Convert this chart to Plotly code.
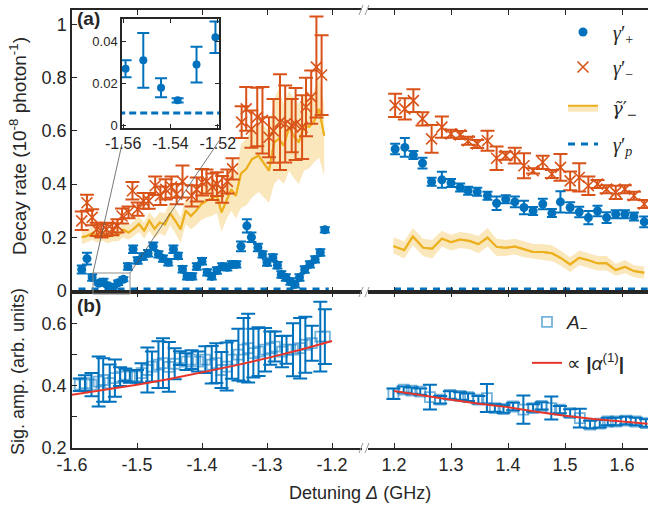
import plotly.graph_objects as go

# ============================ DATA ============================
# Panel (a): decay rates, negative-detuning segment (GHz, 1e-8 photon^-1)
gplus_left_x = [-1.585, -1.577, -1.569, -1.559, -1.5515, -1.544, -1.537, -1.529, -1.521, -1.514,
                -1.506, -1.499, -1.491, -1.483, -1.475, -1.467, -1.460, -1.452, -1.444, -1.437,
                -1.430, -1.423, -1.415, -1.408, -1.400, -1.392, -1.385, -1.377, -1.369, -1.361,
                -1.354, -1.347, -1.340, -1.331, -1.324, -1.314, -1.307, -1.300, -1.291, -1.284,
                -1.278, -1.271, -1.264, -1.257, -1.250, -1.242, -1.234, -1.226, -1.218, -1.211]
gplus_left = [0.079, 0.120, 0.049, 0.027, 0.031, 0.018, 0.012, 0.029, 0.042, 0.090,
              0.155, 0.113, 0.128, 0.140, 0.166, 0.136, 0.120, 0.106, 0.155, 0.130,
              0.080, 0.053, 0.053, 0.090, 0.110, 0.068, 0.053, 0.075, 0.090, 0.087,
              0.098, 0.098, 0.166, 0.243, 0.200, 0.162, 0.136, 0.105, 0.124, 0.095,
              0.060, 0.049, 0.034, 0.023, 0.049, 0.079, 0.098, 0.117, 0.143, 0.228]
gplus_left_err = [0.015, 0.022, 0.012, 0.004, 0.013, 0.0045, 0.001, 0.0085, 0.0075, 0.012,
                  0.014, 0.012, 0.012, 0.012, 0.014, 0.012, 0.012, 0.012, 0.014, 0.012,
                  0.012, 0.012, 0.012, 0.012, 0.012, 0.012, 0.012, 0.012, 0.012, 0.012,
                  0.012, 0.012, 0.018, 0.025, 0.018, 0.014, 0.012, 0.012, 0.012, 0.012,
                  0.012, 0.012, 0.012, 0.012, 0.012, 0.012, 0.012, 0.012, 0.012, 0.010]

gminus_left_x = [-1.585, -1.577, -1.569, -1.562, -1.555, -1.547, -1.538, -1.530, -1.523, -1.513,
                 -1.507, -1.499, -1.490, -1.482, -1.472, -1.464, -1.456, -1.447, -1.439, -1.430,
                 -1.416, -1.408, -1.400, -1.393, -1.384, -1.377, -1.369, -1.361, -1.353, -1.339,
                 -1.332, -1.324, -1.315, -1.307, -1.297, -1.290, -1.280, -1.272, -1.262, -1.256,
                 -1.246, -1.240, -1.232, -1.224, -1.216]
gminus_left = [0.262, 0.330, 0.275, 0.230, 0.224, 0.230, 0.230, 0.243, 0.280, 0.294,
               0.375, 0.306, 0.337, 0.337, 0.394, 0.356, 0.380, 0.389, 0.362, 0.410,
               0.356, 0.380, 0.407, 0.410, 0.390, 0.400, 0.380, 0.410, 0.457, 0.633,
               0.683, 0.607, 0.652, 0.640, 0.576, 0.600, 0.633, 0.626, 0.620, 0.626,
               0.614, 0.690, 0.727, 0.840, 0.810]
gminus_left_err = [0.035, 0.030, 0.030, 0.025, 0.025, 0.025, 0.022, 0.025, 0.028, 0.022,
                   0.033, 0.025, 0.030, 0.030, 0.035, 0.035, 0.038, 0.040, 0.038, 0.060,
                   0.040, 0.045, 0.050, 0.045, 0.050, 0.045, 0.050, 0.045, 0.040, 0.060,
                   0.082, 0.070, 0.110, 0.125, 0.075, 0.120, 0.180, 0.145, 0.100, 0.135,
                   0.120, 0.110, 0.100, 0.190, 0.150]

gtilde_left_x = [-1.585, -1.577, -1.569, -1.561, -1.553, -1.545, -1.537, -1.529, -1.521, -1.513,
                 -1.505, -1.497, -1.489, -1.481, -1.473, -1.465, -1.457, -1.449, -1.441, -1.433,
                 -1.425, -1.417, -1.409, -1.401, -1.393, -1.385, -1.377, -1.370, -1.362, -1.355,
                 -1.348, -1.340, -1.332, -1.323, -1.313, -1.305, -1.297, -1.289, -1.282, -1.274,
                 -1.266, -1.258, -1.251, -1.243, -1.235, -1.228, -1.220, -1.212]
gtilde_left = [0.200, 0.205, 0.215, 0.205, 0.212, 0.200, 0.210, 0.208, 0.228, 0.218,
               0.232, 0.250, 0.225, 0.262, 0.232, 0.255, 0.248, 0.290, 0.262, 0.230,
               0.300, 0.280, 0.300, 0.325, 0.337, 0.345, 0.356, 0.294, 0.343, 0.380,
               0.356, 0.440, 0.457, 0.494, 0.507, 0.480, 0.450, 0.557, 0.570, 0.545,
               0.615, 0.577, 0.557, 0.620, 0.615, 0.634, 0.683, 0.582]
gtilde_left_lo = [0.175, 0.180, 0.190, 0.180, 0.187, 0.178, 0.185, 0.185, 0.200, 0.192,
                  0.205, 0.220, 0.195, 0.225, 0.195, 0.215, 0.205, 0.245, 0.215, 0.180,
                  0.250, 0.230, 0.245, 0.265, 0.275, 0.280, 0.290, 0.220, 0.270, 0.300,
                  0.270, 0.310, 0.320, 0.350, 0.370, 0.350, 0.330, 0.400, 0.420, 0.400,
                  0.450, 0.420, 0.400, 0.450, 0.460, 0.480, 0.500, 0.430]
gtilde_left_hi = [0.225, 0.230, 0.240, 0.230, 0.237, 0.225, 0.235, 0.232, 0.255, 0.245,
                  0.260, 0.280, 0.255, 0.295, 0.270, 0.295, 0.290, 0.335, 0.310, 0.275,
                  0.350, 0.330, 0.355, 0.385, 0.400, 0.410, 0.425, 0.365, 0.420, 0.460,
                  0.440, 0.550, 0.570, 0.610, 0.630, 0.620, 0.600, 0.720, 0.760, 0.700,
                  0.750, 0.720, 0.700, 0.730, 0.720, 0.750, 0.800, 0.700]

gp_left_x = [-1.590, -1.205]
gp_left = [0.006, 0.006]

# Panel (a): positive-detuning segment
gplus_right_x = [1.202, 1.219, 1.234, 1.250, 1.266, 1.284, 1.300, 1.316, 1.330, 1.346,
                 1.364, 1.380, 1.396, 1.412, 1.428, 1.444, 1.461, 1.477, 1.492, 1.509,
                 1.525, 1.541, 1.557, 1.573, 1.589, 1.605, 1.621, 1.639]
gplus_right = [0.532, 0.538, 0.509, 0.479, 0.409, 0.416, 0.404, 0.387, 0.375, 0.371,
               0.356, 0.328, 0.343, 0.333, 0.312, 0.299, 0.325, 0.291, 0.333, 0.312,
               0.295, 0.274, 0.299, 0.274, 0.287, 0.287, 0.278, 0.258]
gplus_right_err = [0.020, 0.035, 0.015, 0.020, 0.015, 0.030, 0.015, 0.015, 0.015, 0.015,
                   0.015, 0.025, 0.015, 0.020, 0.025, 0.015, 0.020, 0.015, 0.040, 0.020,
                   0.020, 0.025, 0.020, 0.020, 0.015, 0.015, 0.015, 0.020]

gminus_right_x = gplus_right_x
gminus_right = [0.696, 0.683, 0.714, 0.645, 0.570, 0.614, 0.589, 0.585, 0.563, 0.551,
                0.563, 0.497, 0.507, 0.507, 0.469, 0.450, 0.482, 0.438, 0.463, 0.412,
                0.425, 0.394, 0.400, 0.381, 0.369, 0.381, 0.356, 0.325]
gminus_right_err = [0.044, 0.040, 0.043, 0.025, 0.052, 0.040, 0.015, 0.015, 0.015, 0.015,
                    0.038, 0.044, 0.015, 0.030, 0.047, 0.010, 0.025, 0.015, 0.050, 0.035,
                    0.053, 0.035, 0.015, 0.015, 0.025, 0.015, 0.015, 0.015]

gtilde_right_x = [1.199, 1.218, 1.233, 1.251, 1.267, 1.284, 1.300, 1.316, 1.333, 1.348,
                  1.364, 1.380, 1.396, 1.412, 1.428, 1.444, 1.461, 1.477, 1.492, 1.509,
                  1.525, 1.541, 1.557, 1.573, 1.589, 1.605, 1.621, 1.639]
gtilde_right = [0.167, 0.152, 0.203, 0.161, 0.157, 0.195, 0.182, 0.192, 0.186, 0.174,
                0.199, 0.164, 0.161, 0.165, 0.155, 0.145, 0.145, 0.140, 0.123, 0.098,
                0.123, 0.114, 0.102, 0.102, 0.077, 0.089, 0.073, 0.067]
gtilde_right_lo = [0.140, 0.120, 0.170, 0.130, 0.120, 0.165, 0.150, 0.160, 0.155, 0.140,
                   0.165, 0.130, 0.130, 0.135, 0.125, 0.120, 0.115, 0.110, 0.095, 0.070,
                   0.095, 0.085, 0.075, 0.075, 0.055, 0.065, 0.050, 0.045]
gtilde_right_hi = [0.200, 0.185, 0.235, 0.195, 0.190, 0.225, 0.210, 0.220, 0.215, 0.205,
                   0.235, 0.195, 0.190, 0.195, 0.185, 0.175, 0.175, 0.170, 0.150, 0.125,
                   0.150, 0.140, 0.130, 0.130, 0.100, 0.115, 0.095, 0.090]

gp_right_x = [1.200, 1.645]
gp_right = [0.006, 0.006]

# Panel (b): signal amplitude A_- and |alpha^(1)| curve
amp_left_x = [-1.588, -1.580, -1.570, -1.559, -1.552, -1.542, -1.534, -1.526, -1.518, -1.511,
              -1.500, -1.493, -1.484, -1.477, -1.467, -1.460, -1.451, -1.442, -1.434, -1.424,
              -1.416, -1.406, -1.395, -1.385, -1.378, -1.370, -1.362, -1.354, -1.344, -1.336,
              -1.329, -1.321, -1.313, -1.303, -1.295, -1.288, -1.277, -1.270, -1.260, -1.249,
              -1.241, -1.231, -1.218, -1.211]
amp_left = [0.403, 0.408, 0.403, 0.413, 0.418, 0.408, 0.424, 0.429, 0.435, 0.429,
            0.430, 0.440, 0.450, 0.461, 0.467, 0.472, 0.460, 0.470, 0.488, 0.477,
            0.483, 0.477, 0.483, 0.467, 0.472, 0.450, 0.461, 0.483, 0.499, 0.515,
            0.520, 0.504, 0.509, 0.515, 0.520, 0.525, 0.509, 0.515, 0.515, 0.520,
            0.531, 0.536, 0.557, 0.557]
amp_left_err = [0.020, 0.025, 0.037, 0.080, 0.070, 0.060, 0.060, 0.030, 0.020, 0.020,
                0.020, 0.032, 0.072, 0.048, 0.075, 0.080, 0.080, 0.050, 0.022, 0.027,
                0.030, 0.032, 0.043, 0.060, 0.064, 0.058, 0.077, 0.061, 0.083, 0.102,
                0.110, 0.078, 0.078, 0.070, 0.053, 0.048, 0.050, 0.045, 0.085, 0.097,
                0.090, 0.056, 0.112, 0.088]

amp_right_x = [1.199, 1.217, 1.231, 1.246, 1.263, 1.281, 1.298, 1.316, 1.330, 1.348,
               1.363, 1.377, 1.392, 1.409, 1.427, 1.444, 1.459, 1.476, 1.491, 1.509,
               1.526, 1.544, 1.561, 1.575, 1.589, 1.607, 1.624, 1.642]
amp_right = [0.374, 0.387, 0.384, 0.381, 0.363, 0.355, 0.370, 0.367, 0.363, 0.355,
             0.360, 0.328, 0.325, 0.333, 0.323, 0.328, 0.335, 0.328, 0.323, 0.312,
             0.296, 0.275, 0.278, 0.285, 0.285, 0.288, 0.285, 0.280]
amp_right_err = [0.017, 0.010, 0.010, 0.010, 0.040, 0.012, 0.012, 0.012, 0.012, 0.012,
                 0.045, 0.012, 0.012, 0.012, 0.045, 0.012, 0.012, 0.037, 0.012, 0.012,
                 0.030, 0.012, 0.012, 0.012, 0.012, 0.012, 0.012, 0.012]

alpha_left_x = [-1.60, -1.55, -1.50, -1.45, -1.40, -1.35, -1.30, -1.25, -1.20]
alpha_left = [0.371, 0.386, 0.403, 0.421, 0.442, 0.464, 0.488, 0.514, 0.543]
alpha_right_x = [1.20, 1.25, 1.30, 1.35, 1.40, 1.45, 1.50, 1.55, 1.60, 1.645]
alpha_right = [0.383, 0.368, 0.355, 0.342, 0.331, 0.316, 0.303, 0.293, 0.285, 0.278]

# Tick labels
left_ticks = [-1.6, -1.5, -1.4, -1.3, -1.2]
left_ticktext = ["-1.6", "-1.5", "-1.4", "-1.3", "-1.2"]
right_ticks = [1.2, 1.3, 1.4, 1.5, 1.6]
right_ticktext = ["1.2", "1.3", "1.4", "1.5", "1.6"]
ya_ticks = [0, 0.2, 0.4, 0.6, 0.8, 1.0]
ya_ticktext = ["0", "0.2", "0.4", "0.6", "0.8", "1"]
yb_ticks = [0.2, 0.3, 0.4, 0.5, 0.6]
yb_ticktext = ["0.2", " ", "0.4", " ", "0.6"]
inset_xticks = [-1.56, -1.54, -1.52]
inset_xticktext = ["-1.56", "-1.54", "-1.52"]
inset_yticks = [0, 0.02, 0.04]
inset_yticktext = ["0", "0.02", "0.04"]

# ============================ STYLE / GEOMETRY ============================
W, H = 649, 509
PL, PR, PT, PB = 72, 648, 10, 448   # plot-area pixel box


def fx(p):
    return (p - PL) / (PR - PL)


def fy(p):
    return (PB - p) / (PB - PT)


BLUE = "#0072BD"
ORANGE = "#D95319"
YELLOW = "#EDB120"
BAND = "rgba(237,177,32,0.30)"
RED = "#E8352B"
AX = "#262626"
SANS = "Liberation Sans, Arial, sans-serif"
SERIF = "Liberation Serif, Times New Roman, serif"

XL_RANGE = [-1.6, -1.6 + (362 - 72) / 650]
XR_RANGE = [1.2 - (394 - 368) / 570, 1.2 + (648 - 394) / 570]
YA_RANGE = [-(292 - 290.5) / 266.0, (290.5 - 10) / 266.0]
YB_RANGE = [0.2, 0.7]

fig = go.Figure()


def band_with_line(xs, ys, lo, hi, xa, ya, legend_name=None):
    show = legend_name is not None
    fig.add_trace(go.Scatter(x=xs, y=lo, mode="lines", line=dict(width=0, color=BAND),
                             xaxis=xa, yaxis=ya, showlegend=False, hoverinfo="skip"))
    fig.add_trace(go.Scatter(x=xs, y=ys, mode="lines", line=dict(width=2, color=YELLOW),
                             fill="tonexty", fillcolor=BAND, xaxis=xa, yaxis=ya,
                             name=legend_name, legend="legend3", showlegend=show))
    fig.add_trace(go.Scatter(x=xs, y=hi, mode="lines", line=dict(width=0, color=BAND),
                             fill="tonexty", fillcolor=BAND, xaxis=xa, yaxis=ya,
                             showlegend=False, hoverinfo="skip"))
    fig.add_trace(go.Scatter(x=xs, y=ys, mode="lines", line=dict(width=2, color=YELLOW),
                             xaxis=xa, yaxis=ya, showlegend=False))


# ---- panel (a) bands + lines
band_with_line(gtilde_left_x, gtilde_left, gtilde_left_lo, gtilde_left_hi, "x", "y",
               "\u2002<i>γ̃</i>′<sub>−</sub>")
band_with_line(gtilde_right_x, gtilde_right, gtilde_right_lo, gtilde_right_hi, "x2", "y2")

# ---- gamma'_-
for xs, ys, es, xa, ya, sl in [(gminus_left_x, gminus_left, gminus_left_err, "x", "y", True),
                               (gminus_right_x, gminus_right, gminus_right_err, "x2", "y2", False)]:
    fig.add_trace(go.Scatter(
        x=xs, y=ys, mode="markers", xaxis=xa, yaxis=ya,
        marker=dict(symbol="x-thin", size=11, color=ORANGE, line=dict(width=1.6, color=ORANGE)),
        error_y=dict(type="data", array=es, color=ORANGE, thickness=2, width=7),
        name="\u2002<i>γ</i>′<sub>−</sub>", legend="legend2", showlegend=sl))

# ---- gamma'_+
for xs, ys, es, xa, ya, sl in [(gplus_left_x, gplus_left, gplus_left_err, "x", "y", True),
                               (gplus_right_x, gplus_right, gplus_right_err, "x2", "y2", False)]:
    fig.add_trace(go.Scatter(
        x=xs, y=ys, mode="markers", xaxis=xa, yaxis=ya,
        marker=dict(symbol="circle", size=9, color=BLUE),
        error_y=dict(type="data", array=es, color=BLUE, thickness=2, width=5),
        name="\u2002<i>γ</i>′<sub>+</sub>", legend="legend", showlegend=sl))

# ---- gamma'_p
for xs, ys, xa, ya, sl in [(gp_left_x, gp_left, "x", "y", True), (gp_right_x, gp_right, "x2", "y2", False)]:
    fig.add_trace(go.Scatter(x=xs, y=ys, mode="lines", xaxis=xa, yaxis=ya,
                             line=dict(color=BLUE, width=3, dash="7px,6px"),
                             name="\u2002<i>γ</i>′<sub><i>p</i></sub>", legend="legend4", showlegend=sl))

# ---- inset
fig.add_trace(go.Scatter(x=gp_left_x, y=gp_left, mode="lines", xaxis="x5", yaxis="y5",
                         line=dict(color=BLUE, width=3, dash="7px,4px"), showlegend=False))
fig.add_trace(go.Scatter(x=gplus_left_x, y=gplus_left, mode="markers", xaxis="x5", yaxis="y5",
                         marker=dict(symbol="circle", size=8, color=BLUE),
                         error_y=dict(type="data", array=gplus_left_err, color=BLUE, thickness=2, width=6),
                         showlegend=False))

# ---- panel (b)
for xs, ys, es, xa, ya, sl in [(amp_left_x, amp_left, amp_left_err, "x3", "y3", True),
                               (amp_right_x, amp_right, amp_right_err, "x4", "y4", False)]:
    fig.add_trace(go.Scatter(
        x=xs, y=ys, mode="markers", xaxis=xa, yaxis=ya,
        marker=dict(symbol="square-open", size=10, color="rgba(0,114,189,0.55)",
                    line=dict(width=1.8, color="rgba(0,114,189,0.55)")),
        error_y=dict(type="data", array=es, color=BLUE, thickness=2, width=7),
        name="<i>A</i><sub>−</sub>", legend="legend5", showlegend=sl))
for xs, ys, xa, ya, sl in [(alpha_left_x, alpha_left, "x3", "y3", True),
                           (alpha_right_x, alpha_right, "x4", "y4", False)]:
    fig.add_trace(go.Scatter(x=xs, y=ys, mode="lines", xaxis=xa, yaxis=ya,
                             line=dict(color=RED, width=2),
                             name="∝ <b>|</b><i>α</i><sup>(1)</sup><b>|</b>", legend="legend6",
                             showlegend=sl))

# ============================ AXES ============================
XL_DOM = [0, fx(362)]
XR_DOM = [fx(368), 1]
YA_DOM = [fy(292), 1]
YB_DOM = [0, fy(292)]

common = dict(showline=True, linecolor=AX, linewidth=1.5, ticks="inside", ticklen=5,
              tickwidth=1.3, tickcolor=AX, showgrid=False, zeroline=False,
              tickfont=dict(family=SANS, size=18, color=AX), automargin=False)

fig.update_layout(
    xaxis=dict(domain=XL_DOM, range=XL_RANGE, anchor="y", mirror="ticks", tickvals=left_ticks,
               showticklabels=False, **common),
    yaxis=dict(domain=YA_DOM, range=YA_RANGE, anchor="x", mirror=False, tickvals=ya_ticks,
               ticktext=ya_ticktext, **common),
    xaxis2=dict(domain=XR_DOM, range=XR_RANGE, anchor="y2", mirror="ticks", tickvals=right_ticks,
                showticklabels=False, **common),
    yaxis2=dict(domain=YA_DOM, range=YA_RANGE, anchor="x2", showline=False, showticklabels=False,
                ticks="", showgrid=False, zeroline=False),
    xaxis3=dict(domain=XL_DOM, range=XL_RANGE, anchor="y3", mirror="ticks", tickvals=left_ticks,
                ticktext=left_ticktext, **common),
    yaxis3=dict(domain=YB_DOM, range=YB_RANGE, anchor="x3", mirror=False, tickvals=yb_ticks,
                ticktext=yb_ticktext, **common),
    xaxis4=dict(domain=XR_DOM, range=XR_RANGE, anchor="y4", mirror="ticks", tickvals=right_ticks,
                ticktext=right_ticktext, **common),
    yaxis4=dict(domain=YB_DOM, range=YB_RANGE, anchor="x4", showline=False, showticklabels=False,
                ticks="", showgrid=False, zeroline=False),
    xaxis5=dict(domain=[fx(122), fx(219)], range=[-1.5605, -1.5195], anchor="y5", mirror="ticks",
                tickvals=inset_xticks, ticktext=inset_xticktext,
                **{**common, "tickfont": dict(family=SANS, size=16, color=AX), "ticklen": 4}),
    yaxis5=dict(domain=[fy(128), fy(19)], range=[-0.0012, 0.0507], anchor="x5", mirror="ticks",
                tickvals=inset_yticks, ticktext=inset_yticktext,
                **{**common, "tickfont": dict(family=SANS, size=13, color=AX), "ticklen": 4}),
)

# ============================ LEGENDS ============================
def leg(xp, yp, fam=SERIF, size=20):
    return dict(x=fx(xp), y=fy(yp), xanchor="left", yanchor="middle", bgcolor="rgba(0,0,0,0)",
                borderwidth=0, font=dict(family=fam, size=size, color=AX), itemwidth=30,
                tracegroupgap=0)


fig.update_layout(
    legend=leg(563, 32), legend2=leg(563, 67),
    legend3=leg(563, 108, "DejaVu Serif, Liberation Serif, serif", 18), legend4=leg(563, 144),
    legend5=leg(527, 322, SANS, 19), legend6=leg(527, 363, SANS, 19),
)

# ============================ DECORATIONS ============================
shapes = []
# zoom rectangle and connector lines
shapes.append(dict(type="rect", xref="paper", yref="paper", x0=fx(93), x1=fx(130), y0=fy(294),
                   y1=fy(273), line=dict(color="#8c8c8c", width=1)))
shapes.append(dict(type="line", xref="paper", yref="paper", x0=fx(93), y0=fy(273), x1=fx(122),
                   y1=fy(144), line=dict(color="#555555", width=0.8)))
shapes.append(dict(type="line", xref="paper", yref="paper", x0=fx(130), y0=fy(273), x1=fx(219),
                   y1=fy(141), line=dict(color="#555555", width=0.8)))
# axis-break marks
for yb in (10, 292, 448):
    for dx in (-3, 3):
        shapes.append(dict(type="line", xref="paper", yref="paper", x0=fx(362 + dx), y0=fy(yb + 5),
                           x1=fx(366 + dx), y1=fy(yb - 5), line=dict(color="#9a9a9a", width=1)))

annotations = [
    dict(text="<b>(a)</b>", x=fx(75), y=fy(18), xref="paper", yref="paper", xanchor="left",
         yanchor="middle", showarrow=False, font=dict(family=SANS, size=19, color=AX)),
    dict(text="<b>(b)</b>", x=fx(75), y=fy(305), xref="paper", yref="paper", xanchor="left",
         yanchor="middle", showarrow=False, font=dict(family=SANS, size=19, color=AX)),
    dict(text="Decay rate (10<sup>-8</sup> photon<sup>-1</sup>)", x=fx(18), y=fy(146),
         xref="paper", yref="paper", textangle=-90, showarrow=False, xanchor="center",
         yanchor="middle", font=dict(family=SANS, size=19, color=AX)),
    dict(text="Sig. amp. (arb. units)", x=fx(18), y=fy(372), xref="paper", yref="paper",
         textangle=-90, showarrow=False, xanchor="center", yanchor="middle",
         font=dict(family=SANS, size=18, color=AX)),
    dict(text="Detuning <i>Δ</i> (GHz)", x=fx(360), y=fy(493), xref="paper", yref="paper",
         showarrow=False, xanchor="center", yanchor="middle", font=dict(family=SANS, size=18, color=AX)),
]

fig.update_layout(
    width=W, height=H, margin=dict(l=PL, r=W - PR, t=PT, b=H - PB, autoexpand=False),
    paper_bgcolor="white", plot_bgcolor="white", shapes=shapes, annotations=annotations,
    font=dict(family=SANS, size=18, color=AX),
)

fig.write_html("out.html")
